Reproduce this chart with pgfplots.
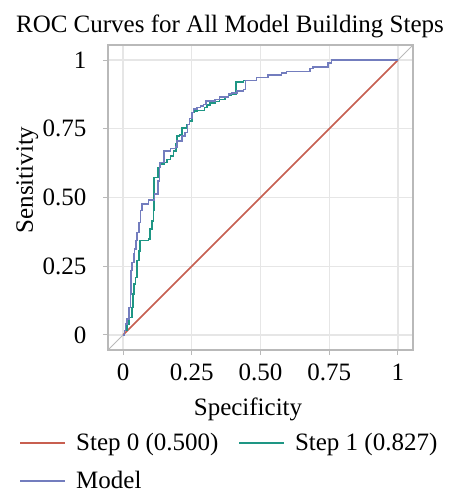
\documentclass[border=0pt]{standalone}
\usepackage{fontspec}
\setmainfont{Liberation Serif}
\usepackage{pgfplots}
\pgfplotsset{compat=1.18}
\usetikzlibrary{calc}
\definecolor{stepzero}{RGB}{200,95,80}
\definecolor{stepone}{RGB}{30,150,132}
\definecolor{model}{RGB}{115,125,190}
\definecolor{framegray}{RGB}{185,185,185}
\definecolor{gridgray}{RGB}{230,230,230}
\newcommand{\bigfont}{\fontsize{25}{29}\selectfont}
\begin{document}
\begin{tikzpicture}
\begin{axis}[
  name=ax,
  scale only axis,
  width=305pt, height=305pt,
  xmin=-0.055, xmax=1.055, ymin=-0.055, ymax=1.055,
  xtick={0,0.25,0.5,0.75,1},
  ytick={0,0.25,0.5,0.75,1},
  xticklabels={0,0.25,0.50,0.75,1},
  yticklabels={0,0.25,0.50,0.75,1},
  xtick pos=left, ytick pos=left,
  tick align=outside,
  major tick length=5pt,
  tick style={framegray, line width=1pt},
  axis line style={framegray, line width=1.5pt},
  grid=major,
  major grid style={gridgray, line width=1.3pt},
  ticklabel style={font=\bigfont},
  xticklabel style={yshift=-5pt},
  yticklabel style={xshift=-13pt},
  legend columns=2,
  legend cell align=left,
  legend style={draw=none, fill=none, font=\bigfont,
    at={(-0.30,-0.26)}, anchor=north west, row sep=15pt,
    /tikz/every odd column/.append style={column sep=8pt},
    /tikz/every even column/.append style={column sep=18pt}},
  legend image code/.code={\draw[#1] (0pt,0pt) -- (45pt,0pt);},
]
\addplot[framegray, line width=1pt, forget plot] coordinates {(-0.055,-0.055) (1.055,1.055)};
\addplot[stepzero, line width=1.5pt, forget plot] coordinates {(0,0) (1,1)};
\addplot[stepone, line width=1.6pt, const plot, forget plot] coordinates {
(0,0) (0.005,0.016) (0.015,0.040) (0.022,0.064) (0.033,0.100) (0.036,0.149)
(0.039,0.185) (0.045,0.209) (0.051,0.270) (0.057,0.306) (0.061,0.343)
(0.093,0.349) (0.097,0.385) (0.105,0.415) (0.111,0.452) (0.113,0.573)
(0.126,0.609) (0.135,0.621) (0.148,0.627) (0.160,0.639) (0.172,0.651)
(0.184,0.669) (0.193,0.694) (0.196,0.724) (0.205,0.728) (0.214,0.752)
(0.232,0.766) (0.242,0.778) (0.250,0.809) (0.259,0.815) (0.268,0.817)
(0.296,0.827) (0.305,0.837) (0.317,0.843) (0.335,0.849) (0.351,0.857)
(0.370,0.866) (0.383,0.873) (0.395,0.876) (0.411,0.921) (0.438,0.926)
(0.486,0.936) (0.528,0.945) (0.577,0.952) (0.595,0.958) (0.680,0.970)
(0.692,0.976) (0.746,0.990) (0.758,1) (1,1)};
\addplot[model, line width=1.6pt, const plot, forget plot] coordinates {
(0,0) (0.005,0.016) (0.008,0.040) (0.015,0.058) (0.022,0.100) (0.027,0.149)
(0.029,0.234) (0.033,0.264) (0.039,0.294) (0.042,0.312) (0.047,0.343)
(0.051,0.373) (0.057,0.409) (0.063,0.452) (0.069,0.476) (0.093,0.490)
(0.114,0.512) (0.126,0.561) (0.133,0.609) (0.135,0.627) (0.148,0.669)
(0.172,0.679) (0.190,0.684) (0.196,0.706) (0.214,0.724) (0.226,0.736)
(0.235,0.766) (0.242,0.788) (0.250,0.809) (0.256,0.821) (0.268,0.827)
(0.281,0.833) (0.293,0.839) (0.302,0.851) (0.335,0.857) (0.351,0.866)
(0.383,0.876) (0.395,0.881) (0.414,0.887) (0.438,0.893) (0.446,0.926)
(0.486,0.936) (0.528,0.945) (0.577,0.952) (0.595,0.958) (0.680,0.970)
(0.692,0.976) (0.746,0.990) (0.758,1) (1,1)};
\addlegendimage{stepzero, line width=1.5pt}
\addlegendentry{Step 0 (0.500)}
\addlegendimage{stepone, line width=1.5pt}
\addlegendentry{Step 1 (0.827)}
\addlegendimage{model, line width=1.5pt}
\addlegendentry{Model}
\end{axis}
\node[anchor=base, font=\bigfont] at ($(ax.south west)+(122pt,317pt)$) {ROC Curves for All Model Building Steps};
\node[anchor=base, font=\bigfont] at ($(ax.south west)+(140pt,-65pt)$) {Specificity};
\node[anchor=base, font=\bigfont, rotate=90] at ($(ax.south west)+(-75pt,170pt)$) {Sensitivity};
\pgfresetboundingbox
\path ($(ax.south west)+(-108pt,-148pt)$) rectangle ($(ax.south west)+(340pt,350pt)$);
\end{tikzpicture}
\end{document}
